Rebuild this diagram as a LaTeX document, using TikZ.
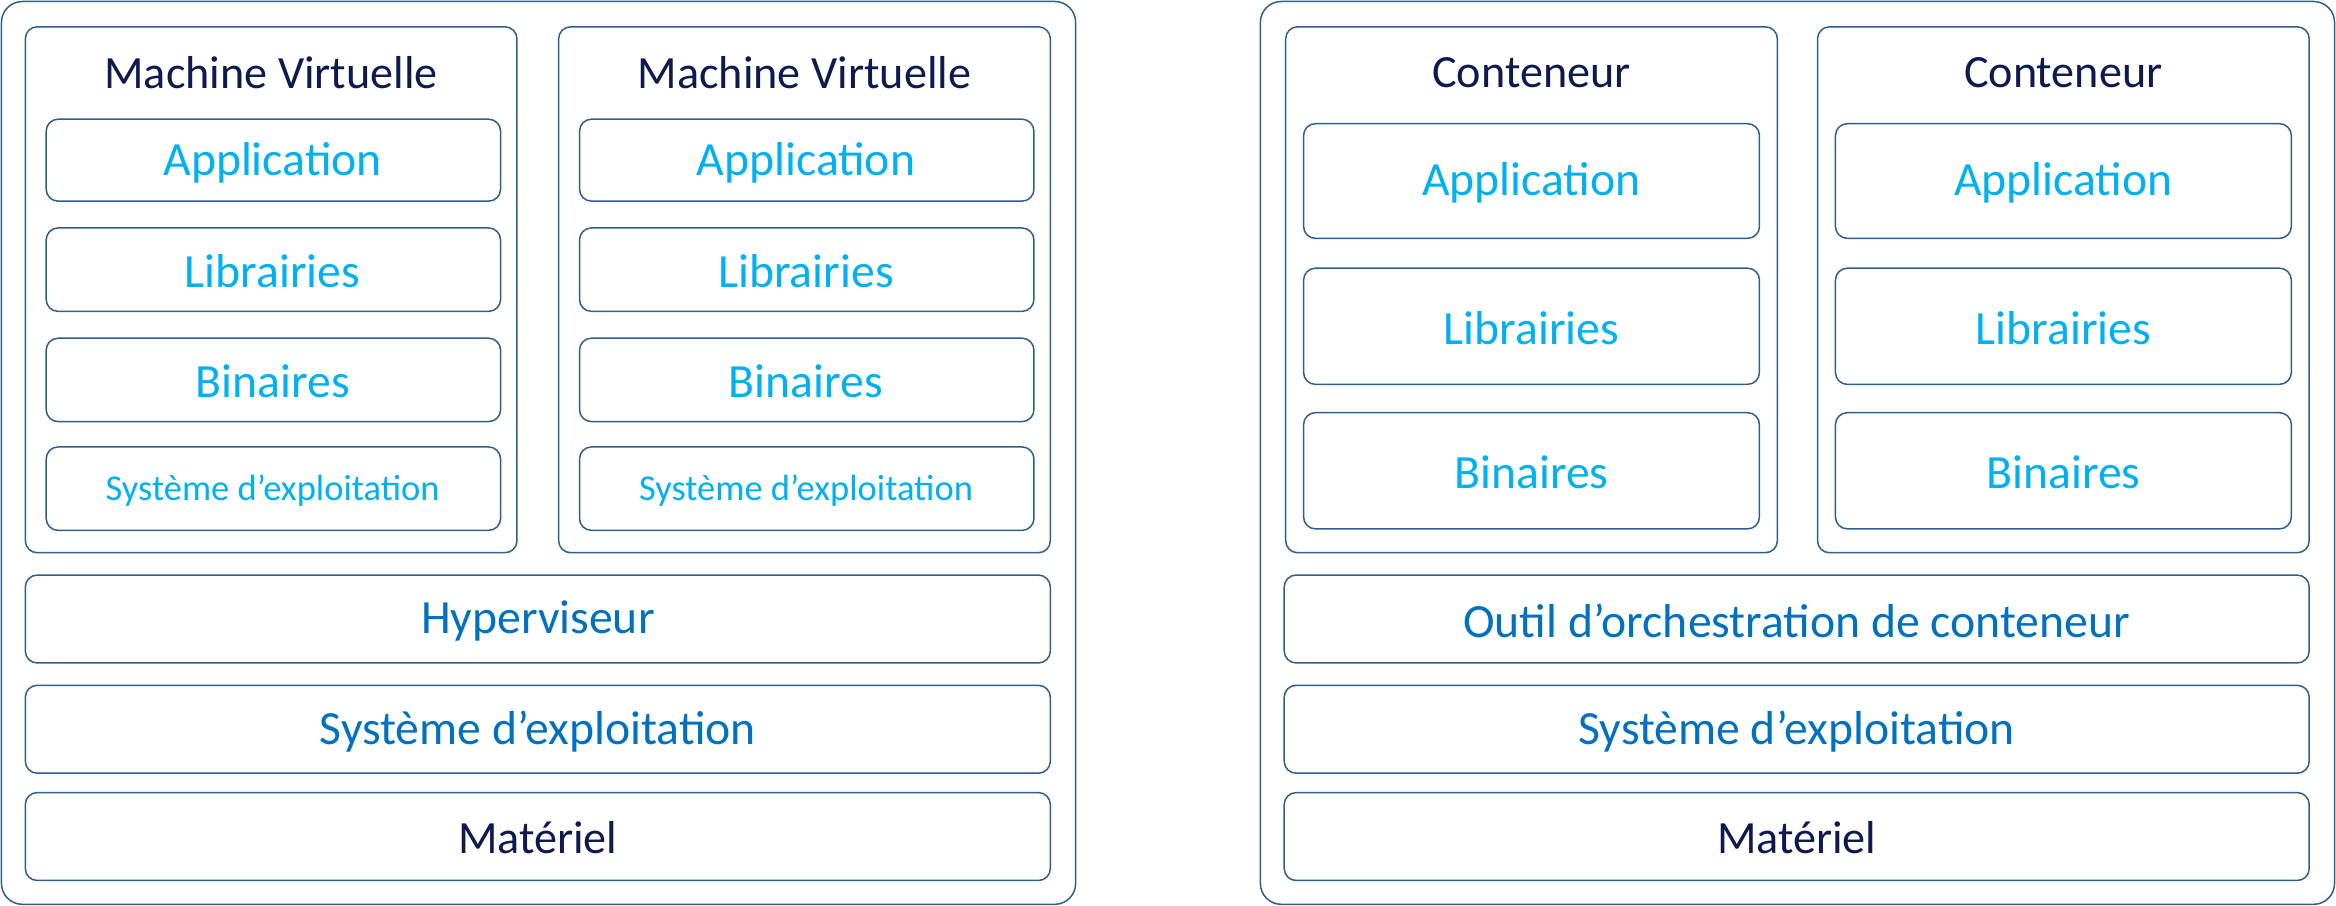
\documentclass[tikz,border=0pt]{standalone}
\usepackage{fontspec}
\setmainfont{Carlito}
\definecolor{bord}{HTML}{2E5E8E}
\definecolor{navy}{HTML}{0D1A4F}
\definecolor{lblue}{HTML}{00B0F0}
\definecolor{mblue}{HTML}{0070C0}
\begin{document}
\begin{tikzpicture}[x=1pt,y=-1pt,
  box/.style={draw=bord,line width=1pt,rounded corners=8pt},
  lt/.style={text=lblue,font=\fontsize{32}{36}\selectfont},
  lts/.style={text=lblue,font=\fontsize{24.5}{28}\selectfont},
  mt/.style={text=mblue,font=\fontsize{32}{36}\selectfont},
  nt/.style={text=navy,font=\fontsize{31}{35}\selectfont}]
\useasboundingbox (0,0) rectangle (1568,608);
\draw[box,rounded corners=14pt] (1,1) rectangle (722,607);
\draw[box,rounded corners=14pt] (846,1) rectangle (1567,607);
% VMs
\foreach \n/\x in {1/17,2/375}{
  \draw[box] (\x,18) rectangle ++(330,353);
  \node[nt] (vm\n) at (\x+165,49) {Machine Virtuelle};
  \draw[box] (\x+14,80) rectangle ++(305,55);
  \node[lt] (va\n) at (\x+166,109) {Application};
  \draw[box] (\x+14,153) rectangle ++(305,56);
  \node[lt] (vl\n) at (\x+166,182) {Librairies};
  \draw[box] (\x+14,227) rectangle ++(305,56);
  \node[lt] (vb\n) at (\x+166,256) {Binaires};
  \draw[box] (\x+14,300) rectangle ++(305,56);
  \node[lts] (vo\n) at (\x+166,329) {Système d’exploitation};
}
\foreach \n/\x in {1/863,2/1220}{
  \draw[box] (\x,18) rectangle ++(330,353);
  \node[nt] (c\n) at (\x+165,49) {Conteneur};
  \draw[box] (\x+12,83) rectangle ++(306,77);
  \node[lt] (ca\n) at (\x+165,123) {Application};
  \draw[box] (\x+12,180) rectangle ++(306,78);
  \node[lt] (cl\n) at (\x+165,220) {Librairies};
  \draw[box] (\x+12,277) rectangle ++(306,78);
  \node[lt] (cb\n) at (\x+165,317) {Binaires};
}
\foreach \s/\x in {l/17,r/862}{
  \draw[box] (\x,386) rectangle ++(688,59);
  \draw[box] (\x,460) rectangle ++(688,59);
  \node[mt] (os\s) at (\x+344,491) {Système d’exploitation};
  \draw[box] (\x,532) rectangle ++(688,59);
  \node[nt] (hw\s) at (\x+344,562) {Matériel};
}
\node[mt] (hyp) at (361,417) {Hyperviseur};
\node[mt] (orc) at (1206,417) {Outil d’orchestration de conteneur};
\end{tikzpicture}
\end{document}
